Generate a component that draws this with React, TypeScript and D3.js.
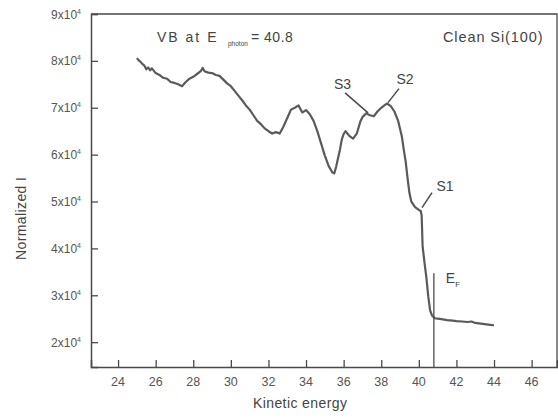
import React, { useEffect, useRef } from 'react';
import * as d3 from 'd3';

// kinetic energy (eV) and normalized intensity
const energy = [
  25.0, 25.1, 25.2, 25.3, 25.4, 25.5, 25.6, 25.7, 25.8, 26.0, 26.2, 26.4, 26.6, 26.8, 27.0, 27.2,
  27.4, 27.6, 27.8, 28.0, 28.2, 28.4, 28.5, 28.6, 28.8, 29.0, 29.2, 29.4, 29.6, 29.8, 30.0, 30.2,
  30.4, 30.6, 30.8, 31.0, 31.2, 31.4, 31.6, 31.8, 32.0, 32.2, 32.4, 32.6, 32.8, 33.0, 33.2, 33.4,
  33.6, 33.8, 34.0, 34.2, 34.4, 34.6, 34.8, 35.0, 35.2, 35.4, 35.5, 35.6, 35.8, 35.9, 36.0, 36.1,
  36.3, 36.5, 36.7, 36.9, 37.0, 37.2, 37.4, 37.6, 37.8, 38.0, 38.2, 38.3, 38.5, 38.7, 38.9, 39.1,
  39.2, 39.3, 39.4, 39.5, 39.6, 39.8, 40.0, 40.1, 40.15, 40.2, 40.3, 40.4, 40.5, 40.6, 40.7, 40.85,
  41.0, 41.2, 41.5, 41.8, 42.0, 42.3, 42.6, 42.8, 43.0, 43.2, 43.4, 43.6, 43.8, 44.0,
];
const intensity = [
  80600, 80100, 79800, 79300, 79000, 78200, 78600, 78000, 78400, 77400, 77000, 76400, 76200, 75500, 75300, 75000,
  74600, 75500, 76200, 76600, 77200, 77800, 78500, 77800, 77500, 77400, 77000, 76800, 76000, 75200, 74600, 73600,
  72600, 71600, 70500, 69600, 68400, 67200, 66500, 65600, 65000, 64500, 64800, 64500, 66000, 67800, 69600, 70000,
  70500, 69000, 69500, 68600, 67200, 65000, 62400, 59800, 57600, 56200, 56000, 57400, 61000, 63200, 64400, 65000,
  64000, 63400, 64500, 67200, 68000, 68800, 68400, 68200, 69200, 70000, 70600, 70900, 70400, 69200, 67200, 63800,
  61000, 58500, 55000, 51800, 50000, 48800, 48200, 48000, 47000, 40500, 37000, 33800, 29800, 26800, 25700, 25100,
  25000, 24900, 24700, 24600, 24500, 24400, 24300, 24400, 24100, 24000, 23900, 23800, 23700, 23600,
];

const xTicks = [24, 26, 28, 30, 32, 34, 36, 38, 40, 42, 44, 46];
const yTicks = [20000, 30000, 40000, 50000, 60000, 70000, 80000, 90000];
const peakNames = ['S1', 'S2', 'S3'];
const peakEnergy = [40.17, 38.36, 37.3];
const peakIntensity = [48700, 71100, 68900];
const fermiEnergy = 40.8;

const ink = '#4a4a4a';
const font = 'Arial, "Liberation Sans", sans-serif';

export default function App() {
  const ref = useRef<SVGSVGElement>(null);

  useEffect(() => {
    const svg = d3.select(ref.current);
    svg.selectAll('*').remove();

    const x = d3.scaleLinear().domain([22.56, 47.35]).range([91, 557]);
    const y = d3.scaleLinear().domain([14700, 90000]).range([367, 14]);
    const [x0, x1] = x.range();
    const [y0, y1] = y.range();

    // frame
    svg.append('path')
      .attr('d', `M${x0},${y1}H${x1}V${y0}`)
      .attr('fill', 'none')
      .attr('stroke', ink)
      .attr('stroke-width', 1.3);

    // bottom axis, ticks pointing inward
    const xAxis = svg.append('g').attr('transform', `translate(0,${y0})`);
    xAxis.call(
      d3.axisTop(x).tickValues(d3.range(23, 48, 1)).tickSize(4).tickFormat(() => '')
    );
    xAxis.call(d3.axisTop(x).tickValues(xTicks).tickSize(7).tickFormat(() => ''));
    xAxis.selectAll('.domain').attr('stroke', ink).attr('stroke-width', 1.5);
    xAxis.selectAll('line').attr('stroke', ink).attr('stroke-width', 1.3);
    svg.append('g')
      .selectAll('text')
      .data(xTicks)
      .enter()
      .append('text')
      .attr('x', (d) => x(d))
      .attr('y', 386)
      .attr('text-anchor', 'middle')
      .attr('font-family', font)
      .attr('font-size', 12.5)
      .attr('fill', '#555')
      .text((d) => d);

    // left axis
    const yAxis = svg.append('g').attr('transform', `translate(${x0},0)`);
    yAxis.call(
      d3.axisRight(y).tickValues(d3.range(20000, 90000, 5000)).tickSize(5).tickFormat(() => '')
    );
    yAxis.call(d3.axisRight(y).tickValues(yTicks).tickSize(7).tickFormat(() => ''));
    yAxis.selectAll('.domain').attr('stroke', ink).attr('stroke-width', 1.5);
    yAxis.selectAll('line').attr('stroke', ink).attr('stroke-width', 1.3);
    const yLabels = svg.append('g')
      .selectAll('text')
      .data(yTicks)
      .enter()
      .append('text')
      .attr('x', 81)
      .attr('y', (d) => y(d) + 4.5)
      .attr('text-anchor', 'end')
      .attr('font-family', font)
      .attr('font-size', 12)
      .attr('fill', '#555');
    yLabels.append('tspan').text((d) => `${d / 10000}x10`);
    yLabels.append('tspan').attr('dy', -5).attr('font-size', 7).text('4');

    // spectrum
    const line = d3.line<number>()
      .x((d, i) => x(energy[i]))
      .y((d) => y(d));
    svg.append('path')
      .datum(intensity)
      .attr('d', line)
      .attr('fill', 'none')
      .attr('stroke', '#5a5a5a')
      .attr('stroke-width', 2.2)
      .attr('stroke-linejoin', 'round');

    // Fermi level marker
    svg.append('line')
      .attr('x1', x(fermiEnergy))
      .attr('x2', x(fermiEnergy))
      .attr('y1', y(34700))
      .attr('y2', y0)
      .attr('stroke', ink)
      .attr('stroke-width', 1.3);
    const ef = svg.append('text')
      .attr('x', x(fermiEnergy) + 12)
      .attr('y', 283)
      .attr('font-family', font)
      .attr('font-size', 14)
      .attr('fill', '#444');
    ef.append('tspan').text('E');
    ef.append('tspan').attr('dy', 4).attr('font-size', 8).text('F');

    // peak labels with leader lines
    const offsets = [
      { lx: 10, ly: -15, tx: 23, ty: -17 },
      { lx: 11, ly: -14, tx: 17, ty: -19 },
      { lx: -23, ly: -20, tx: -25.5, ty: -24 },
    ];
    peakNames.forEach((name, i) => {
      const px = x(peakEnergy[i]);
      const py = y(peakIntensity[i]);
      const o = offsets[i];
      svg.append('line')
        .attr('x1', px)
        .attr('y1', py)
        .attr('x2', px + o.lx)
        .attr('y2', py + o.ly)
        .attr('stroke', ink)
        .attr('stroke-width', 1.5);
      svg.append('text')
        .attr('x', px + o.tx)
        .attr('y', py + o.ty)
        .attr('text-anchor', 'middle')
        .attr('font-family', font)
        .attr('font-size', 14)
        .attr('fill', '#444')
        .text(name);
    });

    // headers
    svg.append('text')
      .attr('x', 157)
      .attr('y', 42)
      .attr('font-family', font)
      .attr('font-size', 14)
      .attr('letter-spacing', 2)
      .attr('fill', '#444')
      .text('VB at E');
    svg.append('text')
      .attr('x', 228)
      .attr('y', 46)
      .attr('font-family', font)
      .attr('font-size', 6.5)
      .attr('fill', '#444')
      .text('photon');
    svg.append('text')
      .attr('x', 251)
      .attr('y', 42)
      .attr('font-family', font)
      .attr('font-size', 14)
      .attr('letter-spacing', 0.5)
      .attr('fill', '#444')
      .text('= 40.8');
    svg.append('text')
      .attr('x', 443)
      .attr('y', 42)
      .attr('font-family', font)
      .attr('font-size', 14.5)
      .attr('letter-spacing', 0.9)
      .attr('fill', '#444')
      .text('Clean Si(100)');

    // axis titles
    svg.append('text')
      .attr('x', 253)
      .attr('y', 408)
      .attr('font-family', font)
      .attr('font-size', 14)
      .attr('letter-spacing', 0.4)
      .attr('fill', '#444')
      .text('Kinetic energy');
    svg.append('text')
      .attr('transform', 'translate(26,260) rotate(-90)')
      .attr('font-family', font)
      .attr('font-size', 14)
      .attr('letter-spacing', 0.4)
      .attr('fill', '#444')
      .text('Normalized I');
  }, []);

  return (
    <svg
      ref={ref}
      width={558}
      height={420}
      style={{ position: 'absolute', left: 0, top: 0, background: '#fff' }}
    />
  );
}
